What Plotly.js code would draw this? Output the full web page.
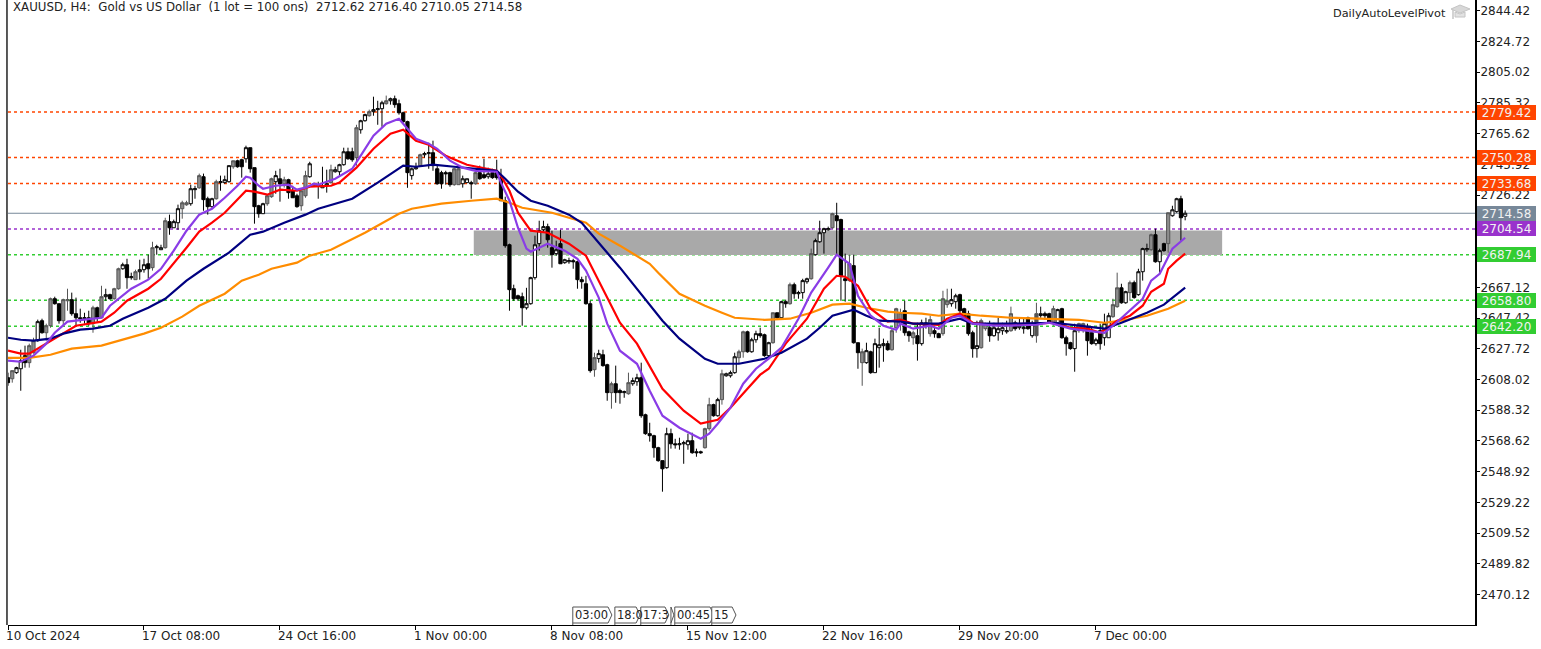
<!DOCTYPE html>
<html><head><meta charset="utf-8">
<script src="https://cdn.plot.ly/plotly-3.0.1.min.js"></script>
<style>html,body{margin:0;padding:0;background:#fff;overflow:hidden}#c{width:1541px;height:649px}</style>
</head><body><div id="c"></div>
<script>
const opens=[
2609.2,2608.5,2612.4,2614.9,2623.3,2618.8,2625.2,2632.9,2645.7,2638.0,
2642.5,2659.8,2656.6,2645.7,2658.5,2659.2,2650.2,2647.6,2647.0,2647.6,
2643.8,2654.0,2647.6,2661.1,2662.4,2659.8,2666.2,2679.0,2681.6,2673.3,
2672.0,2677.1,2678.4,2682.2,2679.7,2692.5,2691.2,2692.5,2709.2,2705.3,
2708.5,2717.5,2720.0,2720.7,2729.7,2730.9,2738.0,2723.9,2718.8,2723.9,
2734.2,2734.2,2734.8,2744.4,2748.2,2748.9,2749.5,2756.6,2743.8,2719.4,
2714.3,2720.7,2725.2,2734.8,2736.7,2733.5,2736.1,2729.0,2725.8,2719.4,
2725.8,2738.0,2733.5,2732.2,2730.9,2732.2,2734.2,2741.2,2741.2,2745.7,
2754.0,2754.0,2750.2,2768.1,2773.9,2777.1,2779.7,2781.0,2781.6,2784.8,
2786.7,2788.0,2784.8,2779.0,2773.3,2738.7,2743.1,2745.1,2752.1,2752.8,
2753.4,2743.1,2740.6,2740.6,2740.6,2732.9,2732.9,2733.5,2734.2,2734.2,
2733.5,2740.6,2739.3,2738.0,2740.6,2740.6,2737.4,2722.6,2694.4,2666.2,
2661.7,2661.1,2654.0,2656.6,2673.3,2695.1,2704.0,2706.0,2692.5,2688.7,
2695.1,2682.9,2683.5,2684.2,2683.5,2672.0,2669.4,2656.6,2614.3,2621.4,
2623.9,2617.5,2599.6,2605.3,2600.9,2599.6,2598.9,2605.3,2606.6,2609.2,
2585.4,2573.3,2572.0,2564.3,2556.0,2551.5,2573.3,2566.8,2566.2,2566.8,
2566.2,2568.8,2561.7,2561.7,2564.3,2576.5,2591.9,2584.8,2595.1,2610.4,
2610.4,2612.4,2622.0,2625.8,2638.6,2625.8,2633.5,2637.4,2636.7,2623.3,
2631.6,2650.8,2647.6,2657.9,2656.6,2668.8,2663.0,2663.7,2670.7,2672.6,
2688.0,2696.3,2702.1,2704.0,2705.3,2713.0,2710.5,2672.6,2671.4,2681.0,
2631.6,2618.8,2618.8,2625.8,2612.4,2628.4,2629.7,2631.0,2627.1,2641.2,
2643.8,2652.1,2638.6,2634.8,2636.1,2631.0,2642.5,2637.4,2639.3,2637.4,
2637.4,2656.0,2656.6,2657.9,2662.4,2653.4,2650.2,2638.0,2627.8,2628.4,
2640.6,2641.2,2636.1,2638.0,2639.3,2638.6,2639.3,2644.4,2641.2,2640.6,
2647.6,2636.1,2650.2,2649.0,2650.2,2650.2,2643.8,2644.4,2653.4,2634.8,
2631.6,2627.8,2639.3,2639.3,2641.2,2638.0,2631.0,2639.3,2634.8,2634.8,
2648.3,2654.7,2666.8,2657.2,2663.7,2670.1,2662.4,2677.1,2691.2,2691.2,
2700.8,2683.5,2695.1,2695.1,2713.0,2715.6,2723.9,2712.62];
const highs=[
2612.4,2613.7,2616.2,2627.1,2629.7,2631.0,2634.8,2646.4,2647.0,2643.8,
2660.5,2661.1,2656.6,2659.8,2666.2,2663.7,2660.5,2653.4,2650.8,2652.1,
2655.3,2654.7,2668.1,2666.2,2663.0,2666.8,2679.7,2682.9,2685.4,2676.5,
2678.4,2684.8,2685.4,2688.0,2696.3,2694.4,2694.4,2711.7,2713.7,2710.5,
2720.1,2722.6,2722.6,2732.9,2732.2,2740.0,2740.0,2725.2,2724.5,2736.1,
2738.7,2738.7,2745.1,2748.2,2748.9,2749.5,2757.9,2756.6,2743.8,2720.0,
2721.3,2726.5,2737.4,2741.8,2743.1,2738.0,2736.7,2732.2,2727.1,2729.0,
2741.8,2747.6,2734.2,2734.8,2744.4,2742.5,2745.7,2744.4,2746.3,2756.6,
2756.6,2756.6,2771.3,2774.5,2778.4,2781.0,2789.3,2786.7,2786.7,2790.0,
2788.7,2790.0,2787.4,2779.7,2773.9,2743.8,2747.0,2752.8,2754.0,2759.8,
2761.1,2745.7,2741.8,2741.8,2741.2,2743.8,2745.1,2738.7,2736.7,2735.4,
2741.8,2745.1,2749.5,2743.8,2743.1,2748.9,2743.1,2725.2,2695.1,2668.8,
2662.4,2663.7,2666.8,2673.9,2700.2,2709.8,2709.8,2707.9,2703.4,2697.0,
2704.0,2685.4,2686.1,2685.4,2684.2,2673.9,2674.5,2658.5,2625.2,2627.1,
2627.1,2618.1,2606.6,2616.9,2602.1,2600.9,2612.4,2609.2,2611.7,2618.8,
2586.1,2580.3,2572.6,2564.9,2556.0,2577.1,2576.5,2570.0,2570.7,2568.8,
2573.3,2573.9,2563.7,2562.4,2577.1,2596.3,2592.5,2596.3,2614.3,2612.4,
2613.7,2625.2,2627.1,2639.3,2639.3,2634.8,2639.3,2641.2,2637.4,2632.2,
2650.8,2650.8,2658.5,2659.2,2670.1,2670.1,2664.9,2672.6,2673.3,2691.9,
2698.3,2709.8,2705.3,2706.0,2714.9,2721.3,2711.1,2688.7,2688.0,2688.0,
2631.6,2627.8,2631.6,2626.5,2634.2,2641.2,2634.2,2632.9,2640.6,2654.0,
2653.4,2658.5,2639.3,2639.3,2644.4,2646.4,2647.6,2648.9,2641.2,2638.0,
2664.9,2666.2,2666.2,2663.0,2663.0,2654.0,2652.1,2639.3,2645.7,2647.0,
2644.4,2645.7,2644.4,2647.6,2644.4,2645.7,2654.7,2645.7,2647.6,2647.0,
2648.3,2645.7,2657.2,2654.7,2651.5,2650.8,2655.3,2653.4,2654.0,2636.1,
2632.2,2643.8,2644.4,2644.4,2643.8,2641.2,2634.8,2643.8,2650.2,2650.8,
2659.8,2676.5,2669.4,2664.9,2671.4,2671.4,2679.0,2692.5,2695.1,2701.5,
2704.7,2691.9,2695.7,2714.9,2719.4,2724.5,2725.8,2716.40];
const lows=[
2604.0,2606.0,2611.7,2600.8,2615.6,2615.6,2624.6,2632.2,2637.4,2632.9,
2641.2,2656.0,2643.8,2642.5,2652.1,2648.9,2642.5,2644.4,2643.8,2642.5,
2638.0,2645.1,2647.6,2658.5,2659.2,2659.2,2665.6,2678.4,2666.2,2672.0,
2672.0,2672.0,2676.5,2672.6,2677.8,2688.0,2691.2,2691.9,2700.8,2705.3,
2704.0,2711.1,2719.4,2719.4,2723.9,2730.3,2716.2,2713.7,2718.1,2723.3,
2729.0,2733.5,2734.2,2743.1,2743.8,2737.4,2747.0,2740.6,2707.9,2711.7,
2714.3,2719.4,2724.5,2727.1,2722.0,2731.0,2723.9,2724.5,2718.1,2716.2,
2724.5,2737.4,2732.2,2723.9,2730.9,2727.8,2733.5,2740.6,2738.7,2745.1,
2748.9,2747.6,2745.1,2765.6,2773.3,2776.5,2777.1,2771.3,2770.0,2784.2,
2784.2,2782.2,2777.8,2772.6,2730.9,2736.1,2742.5,2744.4,2750.2,2743.1,
2741.8,2732.9,2730.3,2732.9,2731.6,2732.2,2732.9,2731.0,2734.2,2723.9,
2732.9,2736.1,2736.7,2736.7,2736.7,2736.1,2722.6,2692.5,2652.1,2658.5,
2658.5,2642.5,2652.8,2656.0,2672.0,2690.6,2702.8,2692.5,2679.7,2687.4,
2682.2,2682.2,2682.2,2679.0,2666.2,2666.2,2656.0,2612.4,2609.8,2618.8,
2616.2,2594.4,2589.3,2593.1,2592.5,2596.3,2598.3,2604.0,2604.0,2583.5,
2572.6,2568.2,2557.9,2555.3,2536.1,2550.8,2563.7,2563.7,2563.0,2554.0,
2563.0,2560.4,2558.5,2560.4,2563.7,2575.2,2584.2,2584.2,2591.9,2609.8,
2609.2,2611.7,2618.1,2622.0,2625.2,2625.2,2631.6,2634.8,2622.6,2621.4,
2631.0,2647.0,2647.0,2654.0,2656.0,2659.8,2659.8,2659.8,2669.4,2672.0,
2687.4,2695.7,2688.7,2703.4,2704.7,2687.4,2658.5,2657.9,2670.7,2631.0,
2614.9,2604.0,2618.1,2611.7,2612.4,2615.6,2619.4,2626.5,2626.5,2638.0,
2639.3,2636.1,2632.2,2630.3,2620.1,2629.7,2640.6,2635.5,2634.8,2634.8,
2636.1,2654.0,2654.7,2653.4,2650.2,2645.7,2636.1,2622.0,2622.0,2627.8,
2639.3,2632.2,2635.5,2632.9,2636.7,2637.4,2638.6,2639.3,2639.9,2637.4,
2639.9,2634.8,2631.6,2647.6,2646.4,2643.8,2642.5,2643.8,2634.2,2623.3,
2627.1,2613.0,2638.0,2638.0,2623.3,2630.3,2629.7,2627.1,2629.7,2634.8,
2647.6,2654.0,2656.6,2656.6,2658.5,2659.8,2661.7,2671.4,2689.9,2690.6,
2682.9,2676.5,2689.9,2689.3,2712.4,2714.9,2697.0,2710.05];
const closes=[
2606.0,2613.7,2615.6,2620.1,2618.8,2629.7,2632.9,2645.1,2638.0,2642.5,
2659.8,2656.6,2645.7,2659.2,2659.2,2650.2,2647.6,2647.0,2647.6,2643.8,
2654.0,2647.6,2661.1,2662.4,2659.8,2666.2,2679.0,2681.6,2673.3,2673.9,
2677.1,2678.4,2681.6,2679.0,2692.5,2693.1,2692.5,2709.8,2705.3,2709.2,
2717.5,2721.3,2721.3,2730.3,2730.3,2738.7,2723.3,2718.8,2723.9,2734.8,
2734.8,2736.1,2745.1,2748.2,2744.4,2744.4,2756.6,2743.1,2718.8,2714.3,
2720.7,2725.8,2736.7,2738.7,2733.5,2736.1,2727.8,2724.5,2718.8,2729.0,
2738.7,2746.3,2732.2,2732.9,2732.2,2733.5,2742.5,2742.5,2745.7,2754.0,
2749.5,2748.9,2769.4,2773.9,2777.8,2779.7,2781.0,2781.6,2785.4,2786.7,
2788.0,2784.2,2779.0,2773.3,2740.6,2743.1,2743.8,2752.1,2752.8,2753.4,
2745.1,2733.5,2733.5,2739.9,2732.9,2743.1,2743.1,2736.7,2736.7,2733.5,
2740.6,2736.7,2737.4,2739.9,2737.4,2737.4,2722.6,2693.8,2665.6,2659.8,
2659.8,2654.0,2656.6,2673.3,2694.4,2703.4,2706.0,2697.6,2688.0,2691.2,
2682.2,2684.8,2684.2,2683.5,2672.0,2670.7,2656.6,2613.7,2622.0,2624.6,
2616.9,2599.6,2605.3,2599.6,2599.6,2600.2,2606.0,2607.3,2609.2,2584.8,
2573.3,2572.0,2564.3,2556.0,2550.8,2573.3,2566.8,2566.2,2566.8,2567.5,
2568.8,2561.1,2561.1,2561.1,2576.5,2591.9,2584.8,2595.1,2611.7,2611.7,
2612.4,2622.6,2625.8,2638.6,2625.8,2633.5,2637.4,2636.1,2623.3,2631.6,
2650.8,2647.6,2657.9,2656.6,2668.8,2663.0,2663.7,2671.4,2672.6,2688.7,
2697.0,2702.1,2704.7,2704.7,2714.3,2709.8,2674.5,2671.4,2682.2,2631.6,
2625.2,2625.8,2626.5,2612.4,2631.0,2630.3,2631.0,2627.1,2639.3,2653.4,
2650.8,2638.0,2636.1,2638.0,2631.0,2644.4,2644.4,2646.4,2637.4,2634.8,
2659.8,2658.5,2659.2,2661.7,2652.1,2647.0,2637.4,2627.8,2629.7,2645.7,
2643.8,2636.1,2641.2,2640.6,2641.2,2639.3,2650.2,2640.6,2642.5,2641.2,
2640.6,2643.8,2636.1,2650.2,2648.9,2644.4,2653.4,2652.8,2634.8,2631.0,
2627.8,2639.3,2643.8,2643.8,2632.9,2631.0,2633.5,2631.0,2643.8,2648.9,
2656.0,2666.8,2657.2,2664.3,2670.1,2660.5,2677.1,2691.9,2691.9,2700.8,
2683.5,2690.6,2690.6,2714.9,2716.8,2723.9,2711.7,2714.58];
const grayBars=[1,5,6,9,10,13,14,20,22,25,26,30,34,37,41,42,45,49,53,61,62,65,69,70,72,76,82,85,89,97,105,106,110,138,142,146,164,165,168,172,173,180,184,189,194,198,201,208,209,210,213,217,220,221,229,230,236,242,246,252,253,260,261,264,269,273];

const purpleBars=[0,3,6,9,11,14,18,22,24,27,29,33,36,39,42,45,48,51,54,56,57,59,60,63,66,68,70,72,73,77,81,83,86,89,92,93,96,99,101,104,107,110,115,116,118,120,122,123,127,131,134,136,139,141,144,148,151,154,158,163,165,167,170,173,176,179,182,186,189,193,195,198,200,203,206,209,210,213,217,219,222,224,227,232,236,242,245,250,254,258,260,264,267,269,271,274,277];
const purpleVals=[2620.1,2619.4,2623.3,2631.0,2638.0,2645.1,2646.4,2647.6,2655.3,2661.7,2666.2,2672.0,2679.0,2690.6,2703.4,2713.7,2717.5,2724.5,2732.2,2738.0,2737.4,2732.2,2730.3,2732.2,2732.9,2729.7,2731.0,2733.5,2732.9,2736.7,2743.1,2751.5,2764.3,2772.0,2775.2,2772.0,2762.4,2759.2,2755.9,2748.3,2743.8,2741.8,2741.2,2734.2,2722.6,2705.3,2691.9,2689.9,2695.1,2690.6,2685.4,2677.8,2660.5,2643.8,2626.5,2618.1,2600.8,2584.8,2577.1,2570.0,2573.3,2579.7,2589.9,2605.3,2614.9,2621.4,2628.4,2647.0,2663.7,2679.7,2688.0,2682.2,2661.7,2648.9,2642.5,2639.9,2643.8,2640.6,2642.5,2640.6,2647.6,2648.9,2643.8,2642.5,2642.5,2643.1,2644.4,2640.6,2639.3,2638.0,2642.5,2652.1,2659.8,2671.4,2675.8,2691.9,2698.9];
const redBars=[0,3,5,9,12,16,22,25,28,33,36,38,42,45,48,51,55,56,58,61,64,68,71,76,78,82,86,90,93,94,96,99,103,108,115,116,118,120,123,127,132,136,139,144,148,154,159,163,167,170,174,177,179,183,188,192,195,197,200,203,207,210,213,219,221,224,227,232,242,246,250,254,257,261,264,267,269,272,273,275,277];
const redVals=[2626.5,2624.6,2624.6,2631.0,2636.1,2642.5,2645.1,2650.8,2658.5,2666.2,2672.6,2679.0,2692.5,2702.8,2708.5,2714.9,2725.8,2729.0,2728.4,2726.5,2729.7,2729.0,2731.6,2732.2,2734.2,2743.8,2755.9,2765.6,2768.1,2765.6,2761.1,2758.5,2751.5,2745.7,2741.8,2738.7,2729.0,2714.9,2703.4,2702.1,2695.1,2687.4,2671.4,2644.4,2631.0,2602.1,2588.0,2579.7,2582.2,2589.9,2602.1,2611.1,2614.9,2631.0,2647.0,2666.2,2674.5,2673.9,2668.1,2653.4,2645.1,2646.4,2643.8,2643.1,2647.0,2650.2,2644.4,2643.1,2643.8,2644.4,2641.2,2640.6,2638.0,2645.7,2648.9,2655.3,2664.3,2669.4,2679.0,2684.2,2688.7];
const navyBars=[0,3,6,10,13,17,20,24,27,33,37,42,46,52,57,60,65,70,73,81,87,91,93,96,100,105,110,115,117,120,123,127,132,135,140,144,154,158,164,167,172,178,182,188,191,194,199,202,205,210,213,219,224,227,236,246,252,258,262,268,272,277];
const navyVals=[2634.8,2633.5,2632.9,2634.2,2637.4,2640.0,2640.6,2642.5,2647.0,2654.0,2659.8,2671.4,2679.0,2689.3,2700.8,2702.8,2708.5,2713.7,2717.5,2723.9,2734.2,2741.8,2745.1,2744.4,2745.7,2744.4,2743.1,2741.8,2736.7,2728.4,2722.6,2719.4,2713.7,2708.5,2692.5,2679.7,2645.7,2634.2,2621.3,2618.1,2618.1,2621.3,2625.2,2634.2,2641.2,2648.9,2652.8,2648.9,2645.7,2645.1,2643.8,2643.8,2647.0,2643.8,2643.8,2644.4,2642.5,2640.6,2644.4,2650.8,2656.0,2666.9];
const orangeBars=[0,5,10,15,22,26,32,36,41,45,51,55,59,62,68,71,76,84,92,95,102,109,115,118,121,128,132,136,139,144,151,153,158,164,168,171,178,184,189,194,198,202,207,210,215,219,224,229,236,245,252,258,262,268,273,277];
const orangeVals=[2621.9,2621.9,2623.9,2627.8,2629.7,2632.9,2637.4,2641.2,2648.3,2655.3,2663.0,2671.4,2675.2,2679.0,2682.9,2687.4,2691.2,2702.1,2714.3,2717.5,2720.7,2722.6,2723.9,2721.3,2718.1,2714.9,2711.7,2708.5,2701.5,2693.8,2682.2,2676.5,2663.0,2655.3,2650.8,2647.6,2646.3,2647.0,2650.8,2656.0,2656.6,2654.0,2651.5,2650.8,2650.2,2648.9,2650.2,2648.9,2647.6,2647.0,2646.3,2644.4,2645.7,2648.9,2653.4,2658.5];

const xTickBars=[0,32,64,96,128,160,192,224,256];
const xTickText=['10 Oct 2024','17 Oct 08:00','24 Oct 16:00','1 Nov 00:00','8 Nov 08:00','15 Nov 12:00','22 Nov 16:00','29 Nov 20:00','7 Dec 00:00'];
const yTicks=[2844.42,2824.72,2805.02,2785.32,2765.62,2745.92,2726.22,2706.52,2686.82,2667.12,2647.42,2627.72,2608.02,2588.32,2568.62,2548.92,2529.22,2509.52,2489.82,2470.12];
const yTickHidden=[2706.52,2686.82];
const levelVals=[2779.42,2750.28,2733.68,2704.54,2687.94,2658.80,2642.20];
const levelColors=['#FF4500','#FF4500','#FF4500','#9932CC','#32CD32','#32CD32','#32CD32'];
const lastPrice=2714.58;
const zoneBars=[109.6,285.7];
const zonePrices=[2687.9,2703.5];
const eventLabels=['03:00','18:0','17:3','','00:45','15'];
const eventFrom=[132.9,142.8,148.9,156.0,156.9,165.6];
const eventTo=[142.1,148.7,155.5,156.7,166.1,171.3];

const idx=opens.map((_,i)=>i);
const isGray=new Set(grayBars);
function pick(arr,test){return arr.filter((_,i)=>test(i));}
function candle(test,upFill,upLine,downFill,downLine){
  return {type:'candlestick',x:pick(idx,test),open:pick(opens,test),high:pick(highs,test),low:pick(lows,test),close:pick(closes,test),
    increasing:{fillcolor:upFill,line:{color:upLine,width:1}},decreasing:{fillcolor:downFill,line:{color:downLine,width:1}},
    whiskerwidth:0,hoverinfo:'skip',showlegend:false};
}
function ma(x,y,c){return {type:'scatter',mode:'lines',x:x,y:y,line:{color:c,width:2.2},hoverinfo:'skip',showlegend:false};}
const traces=[
  candle(i=>!isGray.has(i),'#ffffff','#000000','#000000','#000000'),
  candle(i=>isGray.has(i),'#8c8c8c','#555555','#555555','#555555'),
  ma(orangeBars,orangeVals,'#FF8C00'),
  ma(redBars,redVals,'#FF0000'),
  ma(navyBars,navyVals,'#000080'),
  ma(purpleBars,purpleVals,'#8A3CE6')
];
const shapes=[];
shapes.push({type:'rect',layer:'below',xref:'x',yref:'y',x0:zoneBars[0],x1:zoneBars[1],y0:zonePrices[0],y1:zonePrices[1],fillcolor:'#A9A9A9',line:{width:0}});
levelVals.forEach((v,i)=>shapes.push({type:'line',layer:'below',xref:'paper',yref:'y',x0:0,x1:1,y0:v,y1:v,line:{color:levelColors[i],width:1.5,dash:'3px,3px'}}));
shapes.push({type:'line',layer:'below',xref:'paper',yref:'y',x0:0,x1:1,y0:lastPrice,y1:lastPrice,line:{color:'#778899',width:1}});
shapes.push({type:'line',xref:'paper',yref:'paper',x0:-0.0007,x1:-0.0007,y0:0,y1:1,line:{color:'#222222',width:1.5}});
const H=625,pxY=p=>(H-p)/H;
eventLabels.forEach((t,i)=>{
  const a=eventFrom[i],b=eventTo[i],tip=Math.max(a,b-0.9);
  const top=pxY(607),bot=pxY(623),mid=pxY(615);
  shapes.push({type:'path',layer:'above',xref:'x',yref:'paper',fillcolor:'#ffffff',line:{color:'#555555',width:1},
    path:`M ${a} ${bot} L ${a} ${top} L ${tip} ${top} L ${b} ${mid} L ${tip} ${bot} Z`});
  shapes.push({type:'line',layer:'above',xref:'x',yref:'paper',x0:a,x1:a,y0:0,y1:pxY(623),line:{color:'#555555',width:1}});
});
const X=px=>(px-8)/1467;
shapes.push({type:'path',layer:'above',xref:'paper',yref:'paper',fillcolor:'#d8d8d8',line:{color:'#c4c4c4',width:1},
  path:`M ${X(1451)} ${pxY(9)} L ${X(1460)} ${pxY(5)} L ${X(1470)} ${pxY(9)} L ${X(1460)} ${pxY(13)} Z`});
shapes.push({type:'path',layer:'above',xref:'paper',yref:'paper',fillcolor:'#e2e2e2',line:{color:'#c4c4c4',width:1},
  path:`M ${X(1455)} ${pxY(12)} L ${X(1455)} ${pxY(17)} L ${X(1465)} ${pxY(17)} L ${X(1465)} ${pxY(12)} L ${X(1460)} ${pxY(14)} Z`});
shapes.push({type:'line',layer:'above',xref:'paper',yref:'paper',x0:X(1453),x1:X(1453),y0:pxY(10),y1:pxY(19),line:{color:'#c4c4c4',width:1.5}});

const F='DejaVu Sans';
const annotations=[];
annotations.push({xref:'paper',yref:'paper',x:X(11),y:pxY(7),xanchor:'left',yanchor:'middle',showarrow:false,
  text:'XAUUSD, H4:\u00a0\u00a0Gold vs US Dollar\u00a0\u00a0(1 lot = 100 ons)\u00a0\u00a02712.62 2716.40 2710.05 2714.58',font:{family:F,size:11.8,color:'#222'}});
annotations.push({xref:'paper',yref:'paper',x:X(1448),y:pxY(13),xanchor:'right',yanchor:'middle',showarrow:false,
  text:'DailyAutoLevelPivot',font:{family:F,size:11.3,color:'#222'}});
eventLabels.forEach((t,i)=>{ if(!t) return;
  annotations.push({xref:'x',yref:'paper',x:eventFrom[i]+0.2,y:pxY(615),xanchor:'left',yanchor:'middle',showarrow:false,text:t,font:{family:F,size:11.5,color:'#222'},borderpad:0});
});
const tag=(v,c)=>annotations.push({xref:'paper',yref:'y',x:X(1506.5),y:v,xanchor:'center',yanchor:'middle',showarrow:false,
  text:v.toFixed(2),font:{family:F,size:12,color:'#f2f2f2'},bgcolor:c,width:57,height:13,borderpad:1,borderwidth:0});
levelVals.forEach((v,i)=>tag(v,levelColors[i]));
tag(lastPrice,'#778899');

Plotly.newPlot('c',traces,{
  width:1541,height:649,autosize:false,showlegend:false,
  margin:{l:8,r:66,t:0,b:24,pad:0},
  paper_bgcolor:'#ffffff',plot_bgcolor:'#ffffff',
  xaxis:{type:'linear',range:[0,345.2],rangeslider:{visible:false},showgrid:false,zeroline:false,
    showline:true,linecolor:'#000',linewidth:1,ticks:'outside',ticklen:4,tickcolor:'#000',tickwidth:1,
    tickmode:'array',tickvals:xTickBars,ticktext:xTickText,ticklabelposition:'outside right',ticklabelshift:-3,tickangle:0,
    tickfont:{family:F,size:12,color:'#222'}},
  yaxis:{side:'right',range:[2450.65,2851.28],showgrid:false,zeroline:false,
    showline:true,linecolor:'#000',linewidth:2,ticks:'outside',ticklen:3,tickcolor:'#000',tickwidth:1,ticklabelstandoff:-2,
    tickmode:'array',tickvals:yTicks,ticktext:yTicks.map(v=>yTickHidden.includes(v)?'':v.toFixed(2)),
    tickfont:{family:F,size:12,color:'#222'}},
  shapes:shapes,annotations:annotations,boxgap:0.25,boxgroupgap:0
},{staticPlot:true,displayModeBar:false});
</script></body></html>
